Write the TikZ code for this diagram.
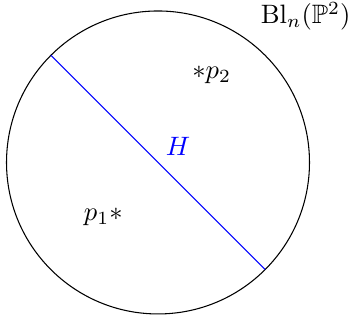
\documentclass[tikz,border=0pt]{standalone}
\usepackage{amssymb}
\begin{document}
\begin{tikzpicture}
\tikzset{lbl/.style={inner sep=0pt}}
\useasboundingbox (-2.086,-2.106) rectangle (2.548,2.145);
\coordinate (O) at (0,0);
\draw (O) circle (2cm);
\coordinate (A) at (135:2cm);
\coordinate (B) at (-45:2cm);
\draw[blue] (A) -- (B);
\node[lbl,text=blue] (H) at (0.264,0.218) {$H$};
\node[lbl] (p2) at (0.709,1.16) {$*p_2$};
\node[lbl] (p1) at (-0.722,-0.72) {$p_1*$};
\node[lbl] (bl) at (1.95,1.93) {$\mathrm{Bl}_n(\mathbb{P}^2)$};
\end{tikzpicture}
\end{document}
